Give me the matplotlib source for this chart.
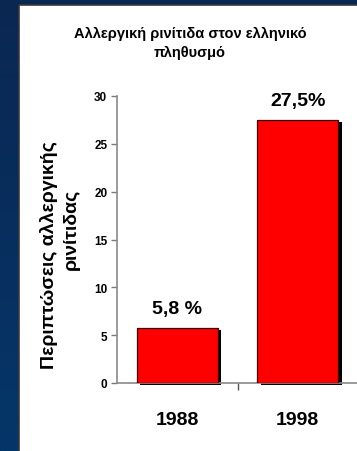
import numpy as np
import matplotlib
matplotlib.use("Agg")
import matplotlib.pyplot as plt
from matplotlib.patches import Rectangle
from matplotlib.colors import LinearSegmentedColormap
import matplotlib.transforms as mtransforms

plt.rcParams['font.family'] = ['Liberation Sans', 'DejaVu Sans']

categories = ["1988", "1998"]
values = [5.8, 27.5]
value_labels = ["5,8 %", "27,5%"]
yticks = [0, 5, 10, 15, 20, 25, 30]
title = "Αλλεργική ρινίτιδα στον ελληνικό\nπληθυσμό"
ylabel_line1 = "Περιπτώσεις αλλεργικής"
ylabel_line2 = "ρινίτιδας"

W, H = 357, 452
fig = plt.figure(figsize=(W / 100, H / 100), dpi=100)

# background gradient
bg = fig.add_axes([0, 0, 1, 1], zorder=-10)
cmap = LinearSegmentedColormap.from_list("bg", ["#0b2752", "#053669"])
grad = np.linspace(0, 1, 256).reshape(-1, 1)
bg.imshow(grad, aspect="auto", cmap=cmap, extent=[0, 1, 0, 1], origin="upper")
bg.set_xlim(0, 1); bg.set_ylim(0, 1)
bg.axis("off")

# white panel
bg.add_patch(Rectangle((18.5 / W, -0.01), 1, 1 - 5.5 / H + 0.01,
                       facecolor="white", edgecolor="#3a3a3a", linewidth=1.2,
                       transform=bg.transAxes, zorder=2))

# main axes
left, right = 117 / W, 358 / W
bottom, top = 1 - 384 / H, 1 - 97 / H
ax = fig.add_axes([left, bottom, right - left, top - bottom], zorder=1)
ax.set_facecolor("none")

x = np.arange(len(categories))
shadow_tr = ax.transData + mtransforms.ScaledTranslation(3.5 / 100, -2 / 100, fig.dpi_scale_trans)
ax.bar(x, values, width=0.67, color="black", transform=shadow_tr, zorder=2, clip_on=False)
ax.bar(x, values, width=0.67, color="#ff0000", edgecolor="#3a0000", linewidth=0.9, zorder=3)

for xi, v, lab in zip(x, values, value_labels):
    ax.annotate(lab, (xi, v), xytext=(0, 14), textcoords="offset points",
                ha="center", va="center", fontsize=14, fontweight="bold", color="black")

ax.set_xlim(-0.5, 1.5)
ax.set_ylim(0, 30)
ax.set_yticks(yticks)
ax.set_yticklabels([str(t) for t in yticks], fontsize=8.5, fontweight="bold")
ax.set_xticks(x)
ax.set_xticklabels(categories, fontsize=14, fontweight="bold")
ax.set_xticks([0.5, 1.5], minor=True)
ax.tick_params(axis="x", which="major", length=0, pad=20)
ax.tick_params(axis="x", which="minor", length=5, width=1, color="#555555", direction="out")
ax.tick_params(axis="y", which="major", length=4, width=1, color="#777777", pad=3)
for s in ["top", "right"]:
    ax.spines[s].set_visible(False)
for s in ["left", "bottom"]:
    ax.spines[s].set_color("#8a8a8a")
    ax.spines[s].set_linewidth(1.2)

fig.text(190 / W, 1 - 43 / H, title, ha="center", va="center", fontsize=10.5,
         fontweight="bold", linespacing=1.45, color="black")
fig.text(49 / W, 1 - 255 / H, ylabel_line1, rotation=90, ha="center", va="center",
         fontsize=14, fontweight="bold", color="black")
fig.text(71 / W, 1 - 229 / H, ylabel_line2, rotation=90, ha="center", va="center",
         fontsize=14, fontweight="bold", color="black")

fig.savefig("out.png", dpi=100)
